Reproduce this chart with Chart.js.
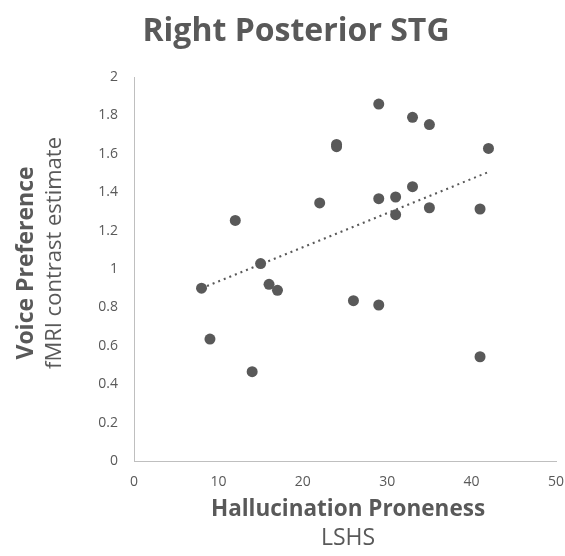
<!DOCTYPE html>
<html>
<head>
<meta charset="utf-8">
<script src="https://cdn.jsdelivr.net/npm/chart.js@4.4.0/dist/chart.umd.min.js"></script>
<style>
  html, body { margin: 0; padding: 0; background: #fff; }
  #wrap { width: 565px; height: 556px; position: relative; }
</style>
</head>
<body>
<div id="wrap"><canvas id="c"></canvas></div>
<script>
// Data
const hallucinationProneness = [8, 9, 12, 14, 15, 16, 17, 22, 24, 24, 26, 29, 29, 29, 31, 31, 33, 33, 35, 35, 41, 41, 42];
const voicePreference = [0.90, 0.635, 1.253, 0.465, 1.028, 0.92, 0.889, 1.344, 1.649, 1.637, 0.835, 1.859, 1.366, 0.8125, 1.375, 1.283, 1.79, 1.429, 1.752, 1.319, 1.3125, 0.543, 1.628];
const xTicks = [0, 10, 20, 30, 40, 50];
const yTicks = [0, 0.2, 0.4, 0.6, 0.8, 1, 1.2, 1.4, 1.6, 1.8, 2];
const chartTitle = 'Right Posterior STG';
const xTitleBold = 'Hallucination Proneness';
const xTitleSub = 'LSHS';
const yTitleBold = 'Voice Preference';
const yTitleSub = 'fMRI contrast estimate';

const GRAY = '#595959';
const FONT = '"Open Sans", "DejaVu Sans", sans-serif';

// Least-squares linear trendline from the data
const n = hallucinationProneness.length;
const mx = hallucinationProneness.reduce((a, b) => a + b, 0) / n;
const my = voicePreference.reduce((a, b) => a + b, 0) / n;
let sxy = 0, sxx = 0;
for (let i = 0; i < n; i++) {
  sxy += (hallucinationProneness[i] - mx) * (voicePreference[i] - my);
  sxx += (hallucinationProneness[i] - mx) ** 2;
}
const slope = sxy / sxx, intercept = my - slope * mx;
const xMin = Math.min(...hallucinationProneness), xMax = Math.max(...hallucinationProneness);
const trend = [xMin, xMax].map(x => ({ x, y: intercept + slope * x }));

const points = hallucinationProneness.map((x, i) => ({ x, y: voicePreference[i] }));

const titles = {
  id: 'titles',
  afterDraw(chart) {
    const ctx = chart.ctx;
    const a = chart.chartArea;
    const cx = (a.left + a.right) / 2;

    ctx.save();
    ctx.fillStyle = GRAY;
    ctx.textAlign = 'center';
    ctx.textBaseline = 'alphabetic';
    ctx.font = 'bold 32px ' + FONT;
    ctx.fillText(chartTitle, 296, 41);
    ctx.restore();

    ctx.save();
    ctx.fillStyle = GRAY;
    ctx.textAlign = 'center';
    ctx.textBaseline = 'middle';
    ctx.font = 'bold 22.5px ' + FONT;
    ctx.fillText(xTitleBold, cx + 3, 510);
    ctx.font = '23px ' + FONT;
    ctx.fillText(xTitleSub, cx + 3, 538);
    ctx.restore();

    ctx.save();
    ctx.fillStyle = GRAY;
    ctx.textAlign = 'center';
    ctx.textBaseline = 'middle';
    ctx.translate(26, 263);
    ctx.rotate(-Math.PI / 2);
    ctx.font = 'bold 23px ' + FONT;
    ctx.fillText(yTitleBold, 0, 0);
    ctx.restore();

    ctx.save();
    ctx.fillStyle = GRAY;
    ctx.textAlign = 'center';
    ctx.textBaseline = 'middle';
    ctx.translate(55, 253);
    ctx.rotate(-Math.PI / 2);
    ctx.font = '22px ' + FONT;
    ctx.fillText(yTitleSub, 0, 0);
    ctx.restore();
  }
};

new Chart(document.getElementById('c'), {
  type: 'scatter',
  data: {
    datasets: [
      {
        label: 'Voice Preference',
        data: points,
        backgroundColor: GRAY,
        borderWidth: 0,
        pointRadius: 5.5,
        pointHoverRadius: 5.5
      },
      {
        type: 'line',
        label: 'Linear trend',
        data: trend,
        borderColor: GRAY,
        borderWidth: 2,
        borderDash: [2, 4],
        borderCapStyle: 'butt',
        pointRadius: 0,
        fill: false
      }
    ]
  },
  options: {
    responsive: true,
    maintainAspectRatio: false,
    animation: false,
    layout: { padding: { left: 0, right: 0, top: 77, bottom: 0 } },
    plugins: {
      legend: { display: false },
      tooltip: { enabled: false },
      title: { display: false }
    },
    scales: {
      x: {
        type: 'linear',
        min: 0, max: 50,
        afterBuildTicks(scale) { scale.ticks = xTicks.map(v => ({ value: v })); },
        afterFit(scale) { scale.height = 95; scale.paddingRight = 9; scale.paddingLeft = 0; },
        grid: { display: false, drawTicks: false },
        border: { display: true, color: '#bfbfbf', width: 1 },
        ticks: { color: GRAY, font: { family: FONT, size: 14 }, padding: 13, callback: v => String(v) }
      },
      y: {
        type: 'linear',
        min: 0, max: 2,
        afterBuildTicks(scale) { scale.ticks = yTicks.map(v => ({ value: v })); },
        afterFit(scale) { scale.width = 134; },
        grid: { display: false, drawTicks: false },
        border: { display: true, color: '#bfbfbf', width: 1 },
        ticks: { color: GRAY, font: { family: FONT, size: 14 }, padding: 16, callback: v => String(v) }
      }
    }
  },
  plugins: [titles]
});
</script>
</body>
</html>
